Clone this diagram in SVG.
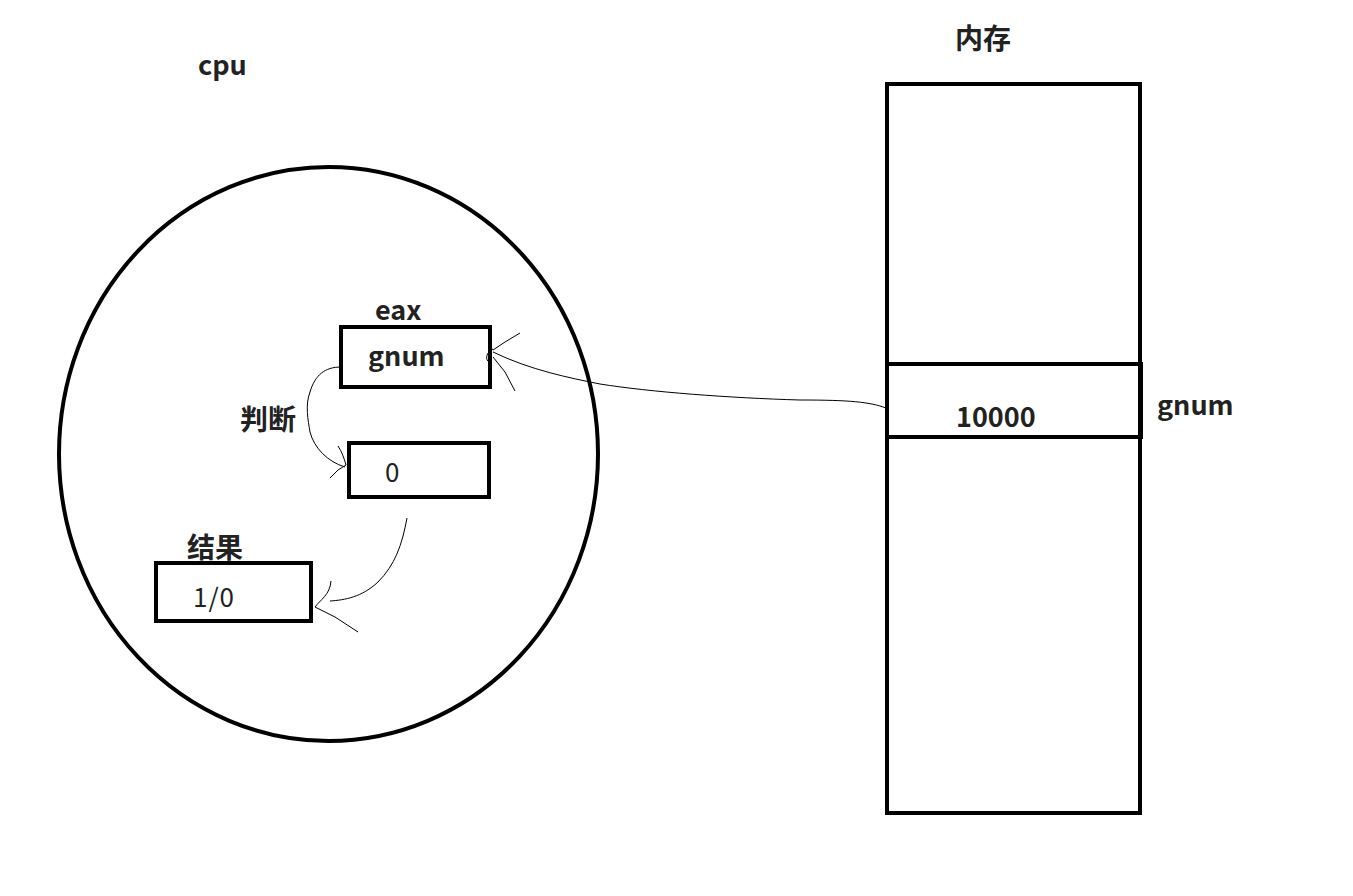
<svg xmlns="http://www.w3.org/2000/svg" width="1353" height="896" viewBox="0 0 1353 896">
<style>
.box{fill:none;stroke:#000;stroke-width:4}
.t{font-family:"Noto Sans CJK SC","Noto Sans",sans-serif;font-weight:bold;font-size:27px;fill:#222}
.z{font-family:"Noto Sans CJK SC",sans-serif;font-weight:bold;font-size:28px;fill:#222}
.n{font-family:"Noto Sans CJK SC","Noto Sans",sans-serif;font-size:26px;fill:#222;letter-spacing:1px}
.c{fill:none;stroke:#000;stroke-width:1}
</style>
<rect width="1353" height="896" fill="#fff"/>
<g id="cpu">
<ellipse cx="328.5" cy="454" rx="269.5" ry="287" class="box"/>
<text x="198" y="75" class="t">cpu</text>
</g>
<g id="eax">
<text x="375" y="320" class="t">eax</text>
<rect x="341" y="327" width="149" height="60" class="box"/>
<text x="368" y="366" class="t">gnum</text>
</g>
<g id="zero">
<rect x="349" y="443" width="140" height="54" class="box"/>
<text x="385" y="482" class="n">0</text>
</g>
<g id="result">
<text x="187" y="558" class="z">结果</text>
<rect x="156" y="563" width="155" height="58" class="box"/>
<text x="193" y="607" class="n">1/0</text>
</g>
<g id="memory">
<text x="955" y="49" class="z">内存</text>
<rect x="887" y="84" width="253" height="729" class="box"/>
<rect x="887" y="364" width="254" height="73" class="box"/>
<text x="956" y="427" class="t">10000</text>
<text x="1157" y="415" class="t">gnum</text>
</g>
<g id="judge">
<text x="240" y="430" class="z">判断</text>
</g>
<g id="connectors">
<path class="c" d="M886,408 C870,402 850,400 800,400 C730,398 650,392 600,384 C570,378 530,370 493,352"/>
<path class="c" d="M493,350 L505,342 L520,333 M493,357 L505,372 L515,391 M493,349 C486,352 485,360 489,362"/>
<path class="c" d="M341,367 C325,367 315,375 310,392 C305,405 308,420 310,432 C314,448 328,462 345,467"/>
<path class="c" d="M338,446 C342,452 344,458 346,465 L338,470 L330,478"/>
<path class="c" d="M407,518 C402,545 395,565 378,582 C362,597 345,600 330,601"/>
<path class="c" d="M331,581 C330,595 320,600 315,607 L335,617 L358,632"/>
</g>
</svg>
